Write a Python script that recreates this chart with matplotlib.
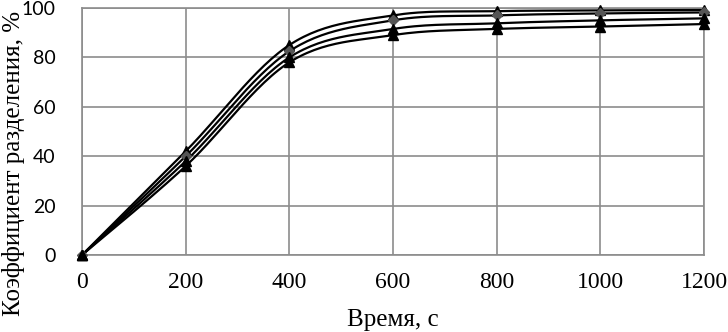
import numpy as np
import matplotlib
matplotlib.use('Agg')
import matplotlib.pyplot as plt

plt.rcParams['font.family'] = ['Liberation Serif', 'DejaVu Serif']

time_s = [0, 200, 400, 600, 800, 1000, 1200]
series_1 = [0, 42, 85, 97, 98.7, 99, 99.2]
series_2 = [0, 40, 82.5, 95, 97, 97.8, 98.2]
series_3 = [0, 38, 80, 91.5, 93.8, 95, 95.8]
series_4 = [0, 36, 78, 89, 91.5, 92.5, 93.5]
markers = ['^', 'D', '^', '^']
marker_colors = ['black', '#555555', 'black', 'black']

X_TICKS = [0, 200, 400, 600, 800, 1000, 1200]
Y_TICKS = [0, 20, 40, 60, 80, 100]


def smooth_curve(x, y, n=30):
    # Excel-style smoothed line: cubic Bezier with Catmull-Rom control points
    x = np.asarray(x, float)
    y = np.asarray(y, float)
    px = np.concatenate([[x[0]], x, [x[-1]]])
    py = np.concatenate([[y[0]], y, [y[-1]]])
    xs, ys = [], []
    t = np.linspace(0, 1, n)
    for i in range(1, len(px) - 2):
        p0 = np.array([px[i], py[i]])
        p3 = np.array([px[i + 1], py[i + 1]])
        c1 = p0 + (np.array([px[i + 1], py[i + 1]]) - np.array([px[i - 1], py[i - 1]])) / 6
        c2 = p3 - (np.array([px[i + 2], py[i + 2]]) - np.array([px[i], py[i]])) / 6
        b = ((1 - t) ** 3)[:, None] * p0 + (3 * (1 - t) ** 2 * t)[:, None] * c1 \
            + (3 * (1 - t) * t ** 2)[:, None] * c2 + (t ** 3)[:, None] * p3
        xs.extend(b[:, 0])
        ys.extend(b[:, 1])
    return np.array(xs), np.array(ys)


fig = plt.figure(figsize=(7.28, 3.32), dpi=100)
ax = fig.add_axes([82 / 728, 1 - 255 / 332, (704 - 82) / 728, (255 - 8) / 332])

for ys, m, mc in zip([series_1, series_2, series_3, series_4], markers, marker_colors):
    sx, sy = smooth_curve(time_s, ys)
    ax.plot(sx, sy, color='black', lw=1.6, zorder=3)
    ax.plot(time_s, ys, linestyle='none', marker=m, color=mc,
            markersize=7 if m == '^' else 5, zorder=4, clip_on=False)

ax.set_xlim(0, 1200)
ax.set_ylim(0, 100)
ax.set_xticks(X_TICKS)
ax.set_yticks(Y_TICKS)
ax.grid(True, color='#8c8c8c', lw=1.2)
ax.set_axisbelow(True)
for s in ax.spines.values():
    s.set_color('#8c8c8c')
    s.set_linewidth(1.2)
ax.tick_params(axis='x', length=0, labelsize=17, pad=12)
ax.tick_params(axis='y', length=0, labelsize=14, pad=19)
for lab in ax.get_yticklabels():
    lab.set_fontfamily(['Lato', 'DejaVu Sans'])
ax.set_xlabel('Время, с', fontsize=18)
ax.set_ylabel('Коэффициент разделения, %', fontsize=18)
ax.xaxis.set_label_coords(0.5, (255 - 331) / 247, transform=ax.transAxes)
ax.xaxis.label.set_va('bottom')
ax.yaxis.set_label_coords(-80 / 622, (255 - 163) / 247)
ax.yaxis.label.set_va('top')

fig.savefig('out.png', dpi=100, facecolor='white')
